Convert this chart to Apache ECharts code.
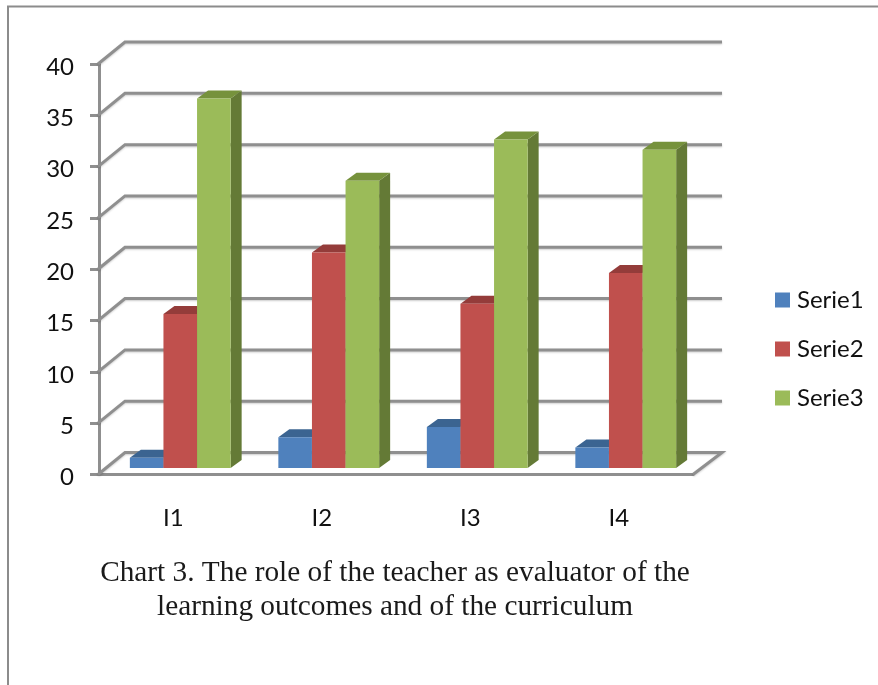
<!DOCTYPE html>
<html>
<head>
<meta charset="utf-8">
<style>html,body{margin:0;padding:0;background:#fff}#c{width:878px;height:685px}</style>
<script src="https://cdn.jsdelivr.net/npm/echarts@6/dist/echarts.min.js"></script>
</head>
<body>
<div id="c"></div>
<script>
var categories = ['I1', 'I2', 'I3', 'I4'];
var serie1 = [1, 3, 4, 2];
var serie2 = [15, 21, 16, 19];
var serie3 = [36, 28, 32, 31];
var yTicks = [0, 5, 10, 15, 20, 25, 30, 35, 40];
var caption = 'Chart 3. The role of the teacher as evaluator of the\nlearning outcomes and of the curriculum';

var GRAY = '#8f8f8f';
var WALL_DX = 27, WALL_DY = -22;
var BAR_W = 33.6, BAR_SHIFT_X = 7, BAR_SHIFT_Y = -6.5, BAR_DX = 11, BAR_DY = -8;

var chart = echarts.init(document.getElementById('c'), null, {renderer: 'canvas'});

function wallItem(params, api) {
  var v = api.value(1);
  var cs = params.coordSys;
  var y = api.coord([0, v])[1];
  var x0 = cs.x - 1, x1 = cs.x + cs.width;
  var pts = [[x0, y], [x0 + WALL_DX, y + WALL_DY], [x1 + 29, y + WALL_DY]];
  if (v === 0) pts.push([x1, y]);
  return {
    type: 'polyline',
    shape: {points: pts},
    style: {stroke: GRAY, lineWidth: 3, fill: null, shadowBlur: 2, shadowColor: 'rgba(0,0,0,0.2)', shadowOffsetY: 1}
  };
}

function barRenderer(offset, front, dark, side) {
  return function (params, api) {
    var cat = api.value(0), v = api.value(1);
    var p0 = api.coord([cat, 0]), p1 = api.coord([cat, v]);
    var l = p0[0] + BAR_SHIFT_X + offset * BAR_W - BAR_W / 2;
    var r = l + BAR_W;
    var b = p0[1] + BAR_SHIFT_Y, t = p1[1] + BAR_SHIFT_Y;
    return {
      type: 'group',
      children: [
        {type: 'polygon', shape: {points: [[r, t], [r + BAR_DX, t + BAR_DY], [r + BAR_DX, b + BAR_DY], [r, b]]}, style: {fill: side}},
        {type: 'polygon', shape: {points: [[l, t], [l + BAR_DX, t + BAR_DY], [r + BAR_DX, t + BAR_DY], [r, t]]}, style: {fill: dark}},
        {type: 'rect', shape: {x: l, y: t, width: BAR_W, height: b - t}, style: {fill: front}}
      ]
    };
  };
}

function pairs(arr) { return arr.map(function (v, i) { return [i, v]; }); }

chart.setOption({
  animation: false,
  grid: {left: 99, right: 185, top: 64, bottom: 210.5, containLabel: false},
  title: {
    text: caption,
    left: 390, top: 551, textAlign: 'center',
    textStyle: {fontFamily: 'Liberation Serif', fontSize: 29.3, fontWeight: 'normal', color: '#1a1a1a', lineHeight: 34, align: 'center'}
  },
  legend: {
    data: ['Serie1', 'Serie2', 'Serie3'],
    orient: 'vertical',
    left: 770, top: 281,
    icon: 'rect', itemWidth: 15, itemHeight: 15, itemGap: 21,
    textStyle: {fontFamily: 'Lato', fontSize: 24, color: '#111', padding: [0, 0, 0, 2], lineHeight: 28}
  },
  xAxis: {
    type: 'category', data: categories,
    axisLine: {lineStyle: {color: GRAY, width: 3}},
    axisTick: {show: false},
    axisLabel: {margin: 32, fontFamily: 'Lato', fontSize: 24, color: '#111'}
  },
  yAxis: {
    type: 'value', min: 0, max: 40, interval: 5,
    axisLine: {show: true, lineStyle: {color: GRAY, width: 3}},
    axisTick: {show: true, length: 9, lineStyle: {color: GRAY, width: 3}},
    splitLine: {show: false},
    axisLabel: {margin: 25, verticalAlign: 'top', lineHeight: 24, padding: [-9, 0, 0, 0], fontFamily: 'Lato', fontSize: 24, color: '#111'}
  },
  series: [
    {name: 'wall', type: 'custom', renderItem: wallItem, data: yTicks.map(function (v) { return [0, v]; }), silent: true, clip: false, z: 1},
    {name: 'Serie1', type: 'custom', renderItem: barRenderer(-1, '#4f81bd', '#3b6491', '#37577f'), itemStyle: {color: '#4f81bd'}, data: pairs(serie1), clip: false, z: 3},
    {name: 'Serie2', type: 'custom', renderItem: barRenderer(0, '#c0504d', '#943c3a', '#7e3330'), itemStyle: {color: '#c0504d'}, data: pairs(serie2), clip: false, z: 3},
    {name: 'Serie3', type: 'custom', renderItem: barRenderer(1, '#9bbb59', '#76923c', '#647a36'), itemStyle: {color: '#9bbb59'}, data: pairs(serie3), clip: false, z: 3}
  ],
  graphic: [
    {type: 'polyline', silent: true, shape: {points: [[8, 685], [8, 6.5], [878, 6.5]]}, style: {stroke: '#8c8c8c', lineWidth: 2, fill: null}}
  ]
});
</script>
</body>
</html>
